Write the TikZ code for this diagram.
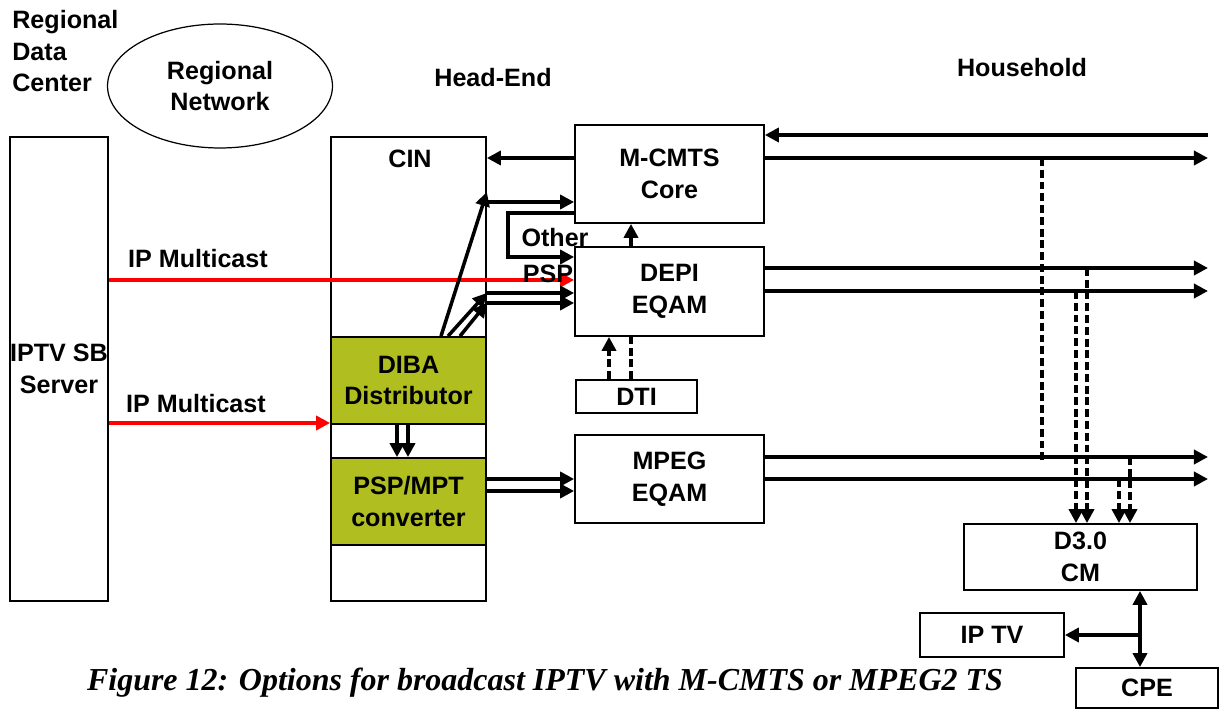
\documentclass[tikz,border=0pt]{standalone}
\usepackage{fontspec}
\setmainfont{Liberation Sans}
\newfontfamily\capfont{Liberation Serif}
\usepackage{tikz}
\usetikzlibrary{shapes.geometric, arrows.meta, positioning}
\definecolor{dibagreen}{HTML}{B0BE20}
\definecolor{mcastred}{HTML}{FF0000}

\begin{document}
\begin{tikzpicture}[
  x=0.02cm, y=-0.02cm,
  every node/.style={font=\fontsize{14.3}{18}\selectfont\bfseries},
  box/.style={draw, line width=1pt, inner sep=0pt, align=center},
  conv/.style={box, fill=dibagreen},
  arrow/.style={-{Triangle[length=8pt, width=8pt]}, line width=2pt},
  tap/.style={line width=2pt, dash pattern=on 4.5pt off 2.2pt},
  tapin/.style={tap, -{Triangle[length=8pt, width=8pt]}},
  mcast/.style={arrow, color=mcastred},
]
\useasboundingbox (0,0) rectangle (1221,709);

% Regional data center
\node[anchor=north west, align=left, inner sep=0pt] (rdc) at (12,10) {Regional\\Data\\Center};
\node[ellipse, draw, line width=0.7pt, minimum width=4.5cm, minimum height=2.48cm, align=center] (rnet) at (220,86) {Regional\\Network};
\node[box, minimum width=1.96cm, minimum height=9.28cm] (server) at (59,369) {IPTV SB\\Server};

% Head-end
\node[anchor=base] (hetitle) at (493,87) {Head-End};
\node[box, minimum width=3.1cm, minimum height=9.28cm] (cin) at (408.5,369) {};
\node[anchor=base] (cintitle) at (410,168) {CIN};
\node[conv, minimum width=3.1cm, minimum height=1.74cm] (diba) at (408.5,380.5) {DIBA\\Distributor};
\node[conv, minimum width=3.1cm, minimum height=1.74cm] (pspmpt) at (408.5,501.5) {PSP/MPT\\converter};

\node[box, minimum width=3.78cm, minimum height=1.96cm] (core) at (669.5,174) {M-CMTS\\Core};
\node[box, minimum width=3.78cm, minimum height=1.78cm] (depi) at (669.5,291.5) {DEPI\\EQAM};
\node[box, minimum width=2.42cm, minimum height=0.66cm] (dti) at (636.5,396.5) {DTI};
\node[box, minimum width=3.78cm, minimum height=1.76cm] (mpeg) at (669.5,479) {MPEG\\EQAM};

% Household
\node[anchor=base] (hhtitle) at (1022,77) {Household};
\node[box, minimum width=4.66cm, minimum height=1.32cm] (cm) at (1080.5,557) {D3.0\\CM};
\node[box, minimum width=2.88cm, minimum height=0.88cm] (iptv) at (992,635) {IP TV};
\node[box, minimum width=2.84cm, minimum height=0.8cm] (cpe) at (1147,688) {CPE};
\coordinate (plant) at (1208,0);

% multicast feeds
\node[anchor=base west] (mc1) at (122,268) {IP Multicast};
\node[anchor=base west] (mc2) at (120,413) {IP Multicast};
\draw[mcast] (server.east |- 0,280) -- (depi.west |- 0,280);
\draw[mcast] (server.east |- 0,423) -- (diba.west |- 0,423);

% CIN <-> core
\draw[arrow] (core.west |- 0,158) -- (cin.east |- 0,158);
\draw[arrow] (cin.east |- 0,202) -- (core.west |- 0,202);
\draw[arrow] (core.west |- 0,213) -| (508,257) -- (depi.west |- 0,257);
\node[anchor=base] (other) at (555,247) {Other};
\node[anchor=base] (psp) at (548,283) {PSP};

% DIBA outputs
\draw[arrow] (diba.north -| 441,0) -- (cin.east |- 0,192);
\draw[arrow] (diba.north -| 448,0) -- (cin.east |- 0,293);
\draw[arrow] (diba.north -| 460,0) -- (cin.east |- 0,303);
\draw[arrow] (cin.east |- 0,293) -- (depi.west |- 0,293);
\draw[arrow] (cin.east |- 0,303) -- (depi.west |- 0,303);
\draw[arrow] (diba.south -| 397,0) -- (pspmpt.north -| 397,0);
\draw[arrow] (diba.south -| 408,0) -- (pspmpt.north -| 408,0);
\draw[arrow] (pspmpt.east |- 0,479) -- (mpeg.west |- 0,479);
\draw[arrow] (pspmpt.east |- 0,491) -- (mpeg.west |- 0,491);

% timing
\draw[tapin] (dti.north -| 609,0) -- (depi.south -| 609,0);
\draw[tap] (dti.north -| 631,0) -- (depi.south -| 631,0);
\draw[tapin] (depi.north -| 631,0) -- (core.south -| 631,0);

% downstream / upstream plant
\draw[arrow] (plant |- 0,135) -- (core.east |- 0,135);
\draw[arrow] (core.east |- 0,158) -- (plant |- 0,158);
\draw[arrow] (depi.east |- 0,268) -- (plant |- 0,268);
\draw[arrow] (depi.east |- 0,291) -- (plant |- 0,291);
\draw[arrow] (mpeg.east |- 0,457) -- (plant |- 0,457);
\draw[arrow] (mpeg.east |- 0,479) -- (plant |- 0,479);

% taps to the modem
\draw[tap] (1042,158) -- (1042,463);
\draw[tapin] (1076,291) -- (cm.north -| 1076,0);
\draw[tapin] (1087,268) -- (cm.north -| 1087,0);
\draw[tapin] (1119,479) -- (cm.north -| 1119,0);
\draw[tapin] (1130,457) -- (cm.north -| 1130,0);

% home network
\draw[arrow, {Triangle[length=8pt, width=8pt]}-{Triangle[length=8pt, width=8pt]}] (cm.south -| 1140,0) -- (cpe.north -| 1140,0);
\draw[arrow] (1140,635) -- (iptv.east);

\node[font=\fontsize{18.2}{20}\selectfont\capfont\bfseries\itshape] (caption) at (545,683) {Figure 12: Options for broadcast IPTV with M-CMTS or MPEG2 TS};
\end{tikzpicture}
\end{document}
